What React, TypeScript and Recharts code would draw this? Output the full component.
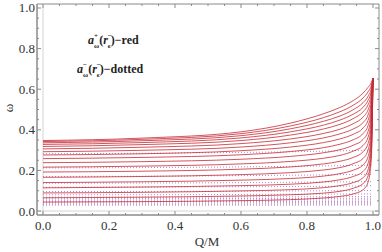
import React from "react";
import { LineChart, Line, XAxis, YAxis, ReferenceArea, ReferenceLine } from "recharts";

// Q/M sample points for the a+ (red) family
const qRed = [0, 0.3, 0.6, 0.75, 0.85, 0.9, 0.94, 0.97, 0.985, 0.995, 1.0];
const red01 = [0.347, 0.359, 0.390, 0.433, 0.479, 0.510, 0.544, 0.581, 0.609, 0.633, 0.655];
const red02 = [0.342, 0.353, 0.381, 0.419, 0.460, 0.489, 0.521, 0.557, 0.587, 0.619, 0.655];
const red03 = [0.336, 0.346, 0.371, 0.405, 0.442, 0.468, 0.499, 0.534, 0.565, 0.605, 0.655];
const red04 = [0.328, 0.337, 0.360, 0.390, 0.423, 0.448, 0.477, 0.511, 0.545, 0.591, 0.655];
const red05 = [0.318, 0.327, 0.347, 0.374, 0.404, 0.427, 0.455, 0.489, 0.523, 0.576, 0.655];
const red06 = [0.306, 0.314, 0.332, 0.355, 0.382, 0.403, 0.430, 0.463, 0.498, 0.558, 0.655];
const red07 = [0.292, 0.299, 0.315, 0.336, 0.360, 0.380, 0.404, 0.436, 0.473, 0.539, 0.655];
const red08 = [0.276, 0.282, 0.297, 0.315, 0.337, 0.355, 0.378, 0.409, 0.447, 0.519, 0.655];
const red09 = [0.258, 0.264, 0.277, 0.293, 0.312, 0.329, 0.351, 0.382, 0.420, 0.498, 0.655];
const red10 = [0.238, 0.243, 0.255, 0.269, 0.287, 0.302, 0.324, 0.353, 0.392, 0.476, 0.655];
const red11 = [0.216, 0.221, 0.232, 0.244, 0.260, 0.274, 0.295, 0.323, 0.363, 0.452, 0.655];
const red12 = [0.192, 0.196, 0.206, 0.217, 0.232, 0.245, 0.264, 0.292, 0.332, 0.427, 0.655];
const red13 = [0.166, 0.170, 0.179, 0.189, 0.202, 0.214, 0.233, 0.259, 0.300, 0.400, 0.655];
const red14 = [0.140, 0.144, 0.152, 0.160, 0.172, 0.184, 0.201, 0.227, 0.267, 0.372, 0.655];
const red15 = [0.114, 0.118, 0.125, 0.132, 0.143, 0.154, 0.170, 0.195, 0.235, 0.345, 0.655];
const red16 = [0.089, 0.092, 0.099, 0.105, 0.115, 0.125, 0.140, 0.164, 0.203, 0.317, 0.655];
const red17 = [0.065, 0.068, 0.074, 0.080, 0.088, 0.097, 0.112, 0.135, 0.173, 0.288, 0.655];
const red18 = [0.044, 0.046, 0.051, 0.056, 0.064, 0.072, 0.084, 0.105, 0.142, 0.258, 0.655];
const redSeries = [red01, red02, red03, red04, red05, red06, red07, red08, red09, red10, red11, red12, red13, red14, red15, red16, red17, red18];

// Q/M sample points for the a- (dotted) family
const qDot = [0, 0.5, 0.8, 1.0];
const dot01 = [0.282, 0.287, 0.293, 0.300];
const dot02 = [0.212, 0.216, 0.221, 0.226];
const dot03 = [0.170, 0.173, 0.177, 0.181];
const dot04 = [0.137, 0.139, 0.142, 0.145];
const dot05 = [0.117, 0.119, 0.121, 0.124];
const dot06 = [0.096, 0.097, 0.099, 0.101];
const dot07 = [0.080, 0.081, 0.083, 0.084];
const dot08 = [0.068, 0.069, 0.070, 0.071];
const dot09 = [0.060, 0.061, 0.062, 0.063];
const dot10 = [0.053, 0.054, 0.054, 0.055];
const dot11 = [0.046, 0.047, 0.047, 0.048];
const dot12 = [0.040, 0.040, 0.041, 0.041];
const dot13 = [0.034, 0.034, 0.035, 0.035];
const dot14 = [0.029, 0.029, 0.029, 0.030];
const dotSeries = [dot01, dot02, dot03, dot04, dot05, dot06, dot07, dot08, dot09, dot10, dot11, dot12, dot13, dot14];

const xMajor = [0, 0.2, 0.4, 0.6, 0.8, 1.0];
const xMinor = [0.05, 0.1, 0.15, 0.25, 0.3, 0.35, 0.45, 0.5, 0.55, 0.65, 0.7, 0.75, 0.85, 0.9, 0.95];
const yMajor = [0, 0.2, 0.4, 0.6, 0.8, 1.0];
const yMinor = [0.05, 0.1, 0.15, 0.25, 0.3, 0.35, 0.45, 0.5, 0.55, 0.65, 0.7, 0.75, 0.85, 0.9, 0.95];

const X_DOMAIN: [number, number] = [-0.0182, 1.0182];
const Y_DOMAIN: [number, number] = [-0.0197, 1.0197];

const W = 382;
const H = 252;
const M = { top: 4, right: 3, left: 0, bottom: 0 };
const YW = 37;
const XH = 37;
const plotTop = M.top;
const plotRight = W - M.right;

const FRAME = "#8a8a8a";
const LABEL = "#333";
const SERIF = "'Liberation Serif', 'DejaVu Serif', serif";

const isMajor = (v: number, list: number[]) => list.some((m) => Math.abs(m - v) < 1e-6);

const XTick = (props: any) => {
  const { x, y, payload } = props;
  const major = isMajor(payload.value, xMajor);
  const len = major ? 4 : 2;
  return (
    <g>
      <line x1={x} x2={x} y1={y} y2={y - len} stroke={FRAME} strokeWidth={1} />
      <line x1={x} x2={x} y1={plotTop} y2={plotTop + len} stroke={FRAME} strokeWidth={1} />
      {major && (
        <text x={x} y={y + 15} textAnchor="middle" fontFamily={SERIF} fontSize={13} fill={LABEL}>
          {payload.value.toFixed(1)}
        </text>
      )}
    </g>
  );
};

const YTick = (props: any) => {
  const { x, y, payload } = props;
  const major = isMajor(payload.value, yMajor);
  const len = major ? 4 : 2;
  return (
    <g>
      <line x1={x} x2={x + len} y1={y} y2={y} stroke={FRAME} strokeWidth={1} />
      <line x1={plotRight} x2={plotRight - len} y1={y} y2={y} stroke={FRAME} strokeWidth={1} />
      {major && (
        <text x={x - 2} y={y + 4.5} textAnchor="end" fontFamily={SERIF} fontSize={13} fill={LABEL}>
          {payload.value.toFixed(1)}
        </text>
      )}
    </g>
  );
};

export default function App() {
  const xTicks = [...xMajor, ...xMinor].sort((a, b) => a - b);
  const yTicks = [...yMajor, ...yMinor].sort((a, b) => a - b);
  return (
    <div style={{ position: "absolute", left: 0, top: 0, width: W, height: H, background: "#fff" }}>
      <LineChart width={W} height={H} margin={M}>
        <XAxis
          type="number"
          dataKey="q"
          domain={X_DOMAIN}
          allowDataOverflow
          ticks={xTicks}
          interval={0}
          tickSize={0}
          tickMargin={0}
          height={XH}
          axisLine={{ stroke: FRAME }}
          tickLine={false}
          tick={<XTick />}
        />
        <YAxis
          type="number"
          domain={Y_DOMAIN}
          allowDataOverflow
          ticks={yTicks}
          interval={0}
          tickSize={0}
          tickMargin={0}
          width={YW}
          axisLine={{ stroke: FRAME }}
          tickLine={false}
          tick={<YTick />}
        />
        <ReferenceArea x1={X_DOMAIN[0]} x2={X_DOMAIN[1]} y1={Y_DOMAIN[0]} y2={Y_DOMAIN[1]} fill="none" stroke={FRAME} strokeWidth={1} ifOverflow="visible" />
        <ReferenceLine x={0} stroke="#d4d4d4" strokeWidth={1} />
        <ReferenceLine y={0} stroke="#d4d4d4" strokeWidth={1} />
        {dotSeries.map((arr, i) => (
          <Line
            key={"d" + i}
            data={qDot.map((q, j) => ({ q, w: arr[j] }))}
            dataKey="w"
            type="monotone"
            stroke="#a060b0"
            strokeOpacity={0.75}
            strokeWidth={1}
            strokeDasharray="1 2"
            dot={false}
            isAnimationActive={false}
          />
        ))}
        {redSeries.map((arr, i) => (
          <Line
            key={"r" + i}
            data={qRed.map((q, j) => ({ q, w: arr[j] }))}
            dataKey="w"
            type="monotone"
            stroke="#c62a36"
            strokeOpacity={0.8}
            strokeWidth={1}
            dot={false}
            isAnimationActive={false}
          />
        ))}
      </LineChart>
      <svg width={W} height={H} style={{ position: "absolute", left: 0, top: 0, pointerEvents: "none" }}>
        <text x={207} y={246} textAnchor="middle" fontFamily={SERIF} fontSize={13} fill={LABEL}>Q/M</text>
        <text x={0} y={0} transform="translate(13,108) rotate(-90)" textAnchor="middle" fontFamily={SERIF} fontSize={13} fill={LABEL}>ω</text>
        <text x={88} y={44} fontFamily={SERIF} fontSize={12} fontWeight="bold" fill="#222">
          <tspan fontStyle="italic">a</tspan>
          <tspan fontSize={7} dy={-6}>+</tspan>
          <tspan fontSize={7} dx={-4} dy={10}>ω</tspan>
          <tspan dy={-4}>(</tspan>
          <tspan fontStyle="italic">r</tspan>
          <tspan fontSize={7} dy={-6}>−</tspan>
          <tspan fontSize={7} dx={-4} dy={10}>ϵ</tspan>
          <tspan dy={-4}>)−red</tspan>
        </text>
        <text x={77} y={73} fontFamily={SERIF} fontSize={12} fontWeight="bold" fill="#222">
          <tspan fontStyle="italic">a</tspan>
          <tspan fontSize={7} dy={-6}>−</tspan>
          <tspan fontSize={7} dx={-4} dy={10}>ω</tspan>
          <tspan dy={-4}>(</tspan>
          <tspan fontStyle="italic">r</tspan>
          <tspan fontSize={7} dy={-6}>−</tspan>
          <tspan fontSize={7} dx={-4} dy={10}>ϵ</tspan>
          <tspan dy={-4}>)−dotted</tspan>
        </text>
      </svg>
    </div>
  );
}
